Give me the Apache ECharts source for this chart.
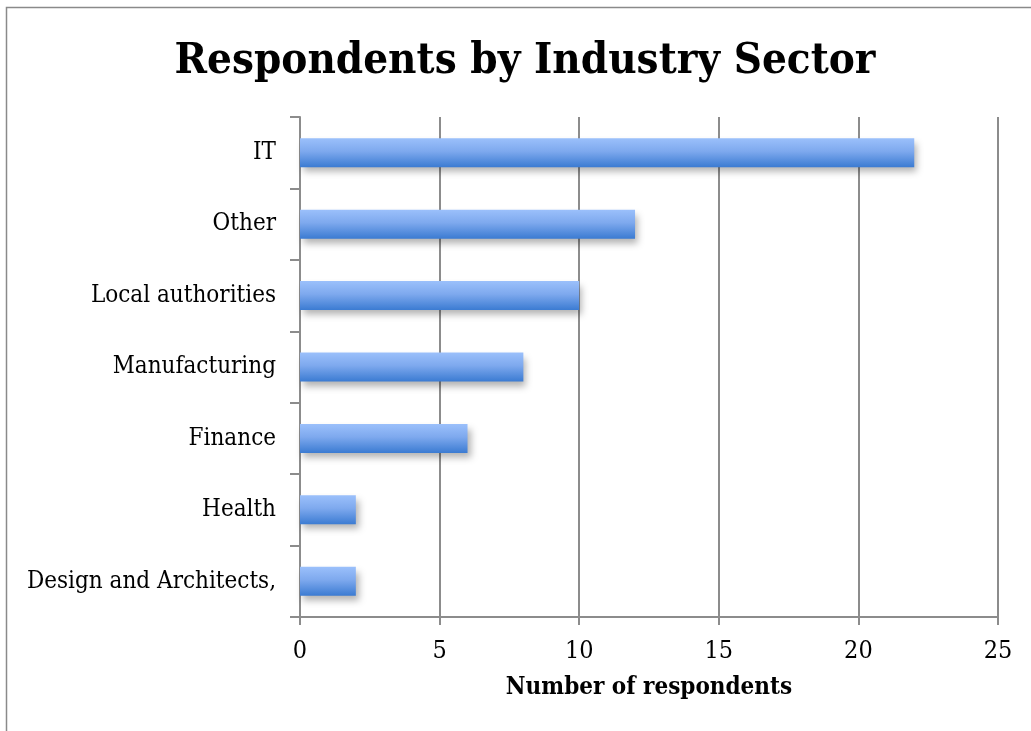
<!DOCTYPE html>
<html>
<head>
<meta charset="utf-8">
<script src="https://cdn.jsdelivr.net/npm/echarts@6/dist/echarts.min.js"></script>
<style>
  html, body { margin: 0; padding: 0; background: #fff; }
  #chart { width: 1031px; height: 731px; }
</style>
</head>
<body>
<div id="chart"></div>
<script>
// Industry sectors, listed top to bottom
const sectors = ['IT', 'Other', 'Local authorities', 'Manufacturing', 'Finance', 'Health', 'Design and Architects,'];
// Respondent counts per sector
const respondents = [22, 12, 10, 8, 6, 2, 2];
// Value-axis ticks
const xTicks = [0, 5, 10, 15, 20, 25];

const serif = '"DejaVu Serif Condensed", "DejaVu Serif", serif';
const axisGray = '#8c8c8c';

const chart = echarts.init(document.getElementById('chart'), null, { renderer: 'canvas' });

chart.setOption({
  animation: false,
  backgroundColor: '#ffffff',
  graphic: [{
    type: 'rect',
    shape: { x: 6.5, y: 7.5, width: 1200, height: 1000 },
    style: { fill: 'none', stroke: '#8a8a8a', lineWidth: 1.5 },
    silent: true
  }],
  title: {
    text: 'Respondents by Industry Sector',
    left: 520,
    textAlign: 'center',
    top: 35,
    textStyle: { fontFamily: serif, fontWeight: 'bold', fontSize: 43.5, color: '#000' }
  },
  grid: { left: 300, right: 33, top: 117, bottom: 114, containLabel: false },
  xAxis: {
    type: 'value',
    min: xTicks[0],
    max: xTicks[xTicks.length - 1],
    interval: xTicks[1] - xTicks[0],
    name: 'Number of respondents',
    nameLocation: 'middle',
    nameGap: 59,
    nameTextStyle: { fontFamily: serif, fontWeight: 'bold', fontSize: 24, color: '#000' },
    axisLine: { show: true, lineStyle: { color: axisGray, width: 2 } },
    axisTick: { show: true, length: 8, lineStyle: { color: axisGray, width: 2 } },
    axisLabel: { fontFamily: serif, fontSize: 25, color: '#000', margin: 22 },
    splitLine: { show: true, lineStyle: { color: axisGray, width: 2 } }
  },
  yAxis: {
    type: 'category',
    data: sectors,
    inverse: true,
    axisLine: { show: true, lineStyle: { color: axisGray, width: 2 } },
    axisTick: { show: true, length: 10, lineStyle: { color: axisGray, width: 2 } },
    axisLabel: { fontFamily: serif, fontSize: 24, color: '#000', margin: 24 },
    splitLine: { show: false }
  },
  series: [{
    type: 'bar',
    data: respondents,
    barWidth: 29,
    itemStyle: {
      color: new echarts.graphic.LinearGradient(0, 0, 0, 1, [
        { offset: 0, color: '#9bc0fb' },
        { offset: 0.45, color: '#7ea9ee' },
        { offset: 1, color: '#3b7bd2' }
      ]),
      shadowColor: 'rgba(0,0,0,0.3)',
      shadowBlur: 7,
      shadowOffsetX: 3,
      shadowOffsetY: 5
    }
  }]
});
</script>
</body>
</html>
